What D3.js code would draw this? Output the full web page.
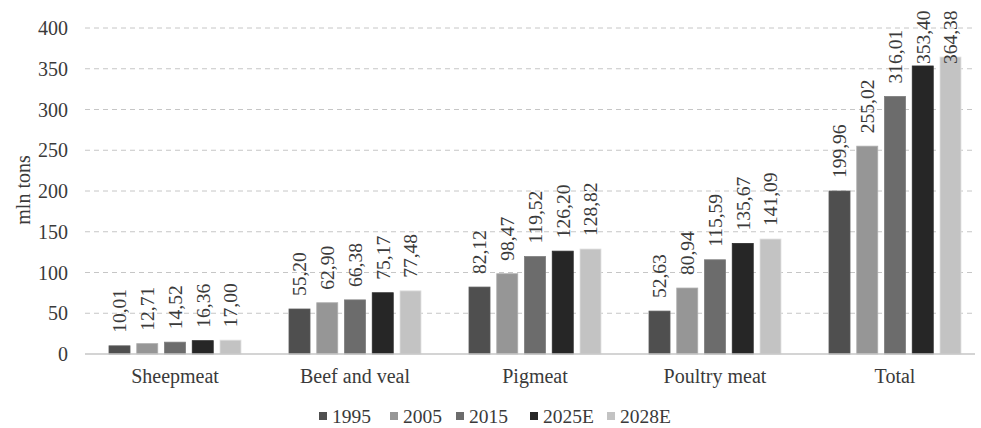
<!DOCTYPE html>
<html>
<head>
<script src="https://cdnjs.cloudflare.com/ajax/libs/d3/7.8.5/d3.min.js"></script>
<style>
  body { margin: 0; background: #fff; }
  text { font-family: "Liberation Serif", "DejaVu Serif", serif; fill: #3a3a3a; }
</style>
</head>
<body>
<div id="chart"></div>
<script>
const categories = ["Sheepmeat", "Beef and veal", "Pigmeat", "Poultry meat", "Total"];
const years = ["1995", "2005", "2015", "2025E", "2028E"];
const colors = ["#4f4f4f", "#969696", "#6c6c6c", "#262626", "#c3c3c3"];
const values = {
  "1995":  [10.01, 55.20, 82.12, 52.63, 199.96],
  "2005":  [12.71, 62.90, 98.47, 80.94, 255.02],
  "2015":  [14.52, 66.38, 119.52, 115.59, 316.01],
  "2025E": [16.36, 75.17, 126.20, 135.67, 353.40],
  "2028E": [17.00, 77.48, 128.82, 141.09, 364.38]
};
const yTicks = [0, 50, 100, 150, 200, 250, 300, 350, 400];

const width = 981, height = 428;
const margin = {left: 85, right: -4, top: 28, bottom: 74};
const groupW = 132;
const fs = "19.5px";

const svg = d3.select("#chart").append("svg")
  .attr("width", width).attr("height", height);

const x = d3.scaleBand().domain(categories)
  .range([margin.left, width - margin.right]);
const xi = d3.scaleBand().domain(years)
  .range([0, groupW]).paddingInner(0.243);
const y = d3.scaleLinear().domain([0, 400])
  .range([height - margin.bottom, margin.top]);

// gridlines
svg.append("g").selectAll("line")
  .data(yTicks.filter(d => d > 0))
  .join("line")
  .attr("x1", margin.left).attr("x2", 975)
  .attr("y1", d => y(d)).attr("y2", d => y(d))
  .attr("stroke", "#c6c6c6").attr("stroke-width", 1)
  .attr("stroke-dasharray", "5,4");

// y tick labels
svg.append("g").selectAll("text")
  .data(yTicks)
  .join("text")
  .attr("x", 68).attr("y", d => y(d))
  .attr("dy", "0.35em")
  .attr("text-anchor", "end")
  .style("font-size", "20px")
  .text(d => d);

// y title
svg.append("text")
  .attr("transform", "translate(24," + 190 + ") rotate(-90)")
  .attr("text-anchor", "middle")
  .attr("dy", "0.3em")
  .style("font-size", "20px")
  .text("mln tons");

// bars
const groups = svg.append("g").selectAll("g")
  .data(categories)
  .join("g")
  .attr("transform", d => "translate(" + (x(d) + (x.bandwidth() - groupW) / 2) + ",0)");

years.forEach((yr, k) => {
  groups.append("rect")
    .attr("x", xi(yr))
    .attr("width", xi.bandwidth())
    .attr("y", (d, i) => y(values[yr][i]))
    .attr("height", (d, i) => y(0) - y(values[yr][i]))
    .attr("fill", colors[k])
    .attr("stroke", d3.color(colors[k]).brighter(0.4))
    .attr("stroke-width", 0.8);

  groups.append("text")
    .attr("transform", function(d, i) {
      // keep labels inside the plot area at the top (Excel style)
      const end = Math.max(y(values[yr][i]) - 13, 64);
      return "translate(" + (xi(yr) + xi.bandwidth() / 2) + "," + end + ") rotate(-90)";
    })
    .attr("dy", "0.35em")
    .style("font-size", fs)
    .text((d, i) => values[yr][i].toFixed(2).replace(".", ","));
});

// baseline
svg.append("line")
  .attr("x1", margin.left).attr("x2", 975)
  .attr("y1", y(0)).attr("y2", y(0))
  .attr("stroke", "#c6c6c6").attr("stroke-width", 1.5);

// x labels
svg.append("g").selectAll("text")
  .data(categories)
  .join("text")
  .attr("x", d => x(d) + x.bandwidth() / 2)
  .attr("y", 383)
  .attr("text-anchor", "middle")
  .style("font-size", "20px")
  .text(d => d);

// legend
const legendX = [319, 390, 456, 530, 607];
const legend = svg.append("g").selectAll("g")
  .data(years)
  .join("g")
  .attr("transform", (d, i) => "translate(" + legendX[i] + ",416)");
legend.append("rect")
  .attr("x", 0).attr("y", -4).attr("width", 8).attr("height", 8)
  .attr("fill", (d, i) => colors[i]);
legend.append("text")
  .attr("x", 13).attr("dy", "0.35em")
  .style("font-size", fs)
  .text(d => d);
</script>
</body>
</html>
